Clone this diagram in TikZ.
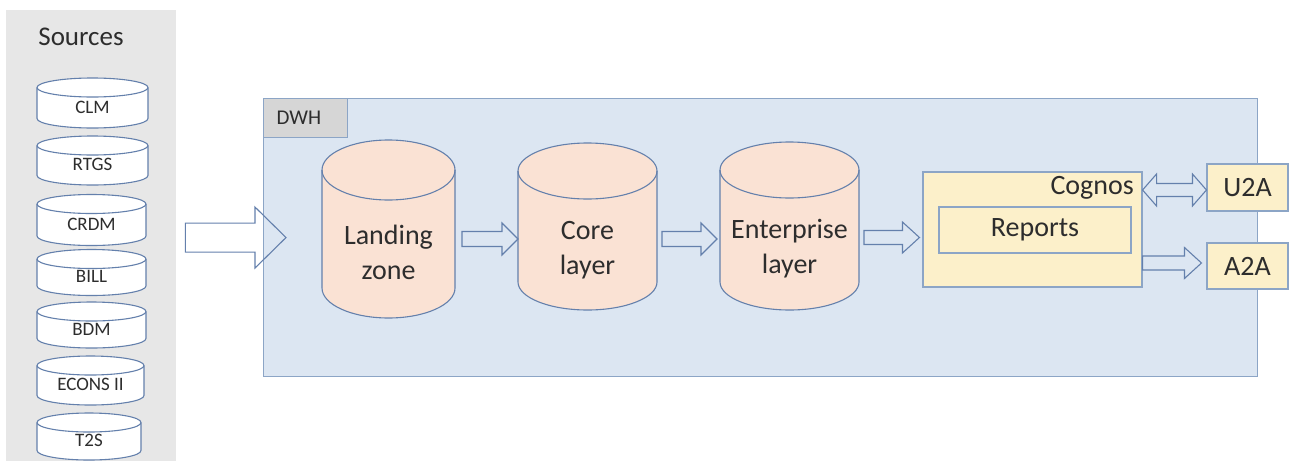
\documentclass[tikz,border=0pt]{standalone}
\usepackage{fontspec}
\setmainfont{Carlito}
\usetikzlibrary{calc}
\usetikzlibrary{positioning}

\definecolor{panelgray}{RGB}{231,231,231}
\definecolor{tabgray}{RGB}{214,214,214}
\definecolor{dwhblue}{RGB}{220,230,242}
\definecolor{dwhline}{RGB}{140,165,198}
\definecolor{dbline}{RGB}{100,128,172}
\definecolor{peach}{RGB}{250,226,212}
\definecolor{cream}{RGB}{252,240,202}
\definecolor{txt}{RGB}{45,45,45}

% cylinder: name, centre, width, height, ellipse half height, fill
\newcommand{\drum}[6]{%
  \node[minimum width=#3pt, minimum height=#4pt, inner sep=0pt, outer sep=0pt] (#1) at #2 {};
  \draw[dbstyle, fill=#6] ($(#1.north west)+(0,#5)$) -- ($(#1.south west)+(0,-#5)$)
    arc[start angle=180, end angle=0, x radius=#3/2, y radius=#5] -- ($(#1.north east)+(0,#5)$)
    arc[start angle=0, end angle=-180, x radius=#3/2, y radius=#5] -- cycle;
  \draw[dbstyle] ($(#1.north west)+(0,#5)$) arc[start angle=180, end angle=0, x radius=#3/2, y radius=#5];}
% hollow block arrow: from, tip, shaft half, head half, head length
\newcommand{\blockarrow}[5]{%
  \draw[flowarrow] ($#1+(0,#3)$) -- ($#2+(-#5,#3)$) -- ($#2+(-#5,#4)$) -- #2
    -- ($#2+(-#5,-#4)$) -- ($#2+(-#5,-#3)$) -- ($#1+(0,-#3)$) -- cycle;}
% same, with a head at both ends
\newcommand{\dblarrow}[5]{%
  \draw[flowarrow] #1 -- ($#1+(#5,#4)$) -- ($#1+(#5,#3)$) -- ($#2+(-#5,#3)$) -- ($#2+(-#5,#4)$) -- #2
    -- ($#2+(-#5,-#4)$) -- ($#2+(-#5,-#3)$) -- ($#1+(#5,-#3)$) -- ($#1+(#5,-#4)$) -- cycle;}

\tikzset{
  flowarrow/.style={draw=dbline, line width=1.1pt, line join=miter},
  dbstyle/.style={draw=dbline, line width=1.1pt},
  srctext/.style={text=txt, font=\fontsize{19}{22}\selectfont, inner sep=0pt},
  layertext/.style={text=txt, align=center, font=\fontsize{28}{35}\selectfont, inner sep=0pt},
  creambox/.style={draw=dwhline, fill=cream, line width=1.1pt, text=txt, font=\fontsize{28}{34}\selectfont, inner sep=0pt},
}

\begin{document}
\begin{tikzpicture}[x=1pt,y=1pt,yscale=-1,xscale=1]
  \path[use as bounding box] (0,0) rectangle (1289,461);

  % sources
  \node[fill=panelgray, anchor=north west, minimum width=170pt, minimum height=451pt, inner sep=0pt] (src) at (6,10) {};
  \node[text=txt, font=\fontsize{27}{30}\selectfont] (srctitle) at (81,37) {Sources};
  \foreach \name/\lbl/\w/\y/\h in {clm/CLM/111/103/50, rtgs/RTGS/111/160.5/49, crdm/CRDM/109/220/51,
      bill/BILL/109/272.5/46, bdm/BDM/109/325/46, econs/ECONS II/107/380.5/49, tts/T2S/104/436.5/47} {
    \drum{\name}{({37+\w/2},\y)}{\w}{\h}{9.5}{white}
    \node[srctext] (t\name) at ($(\name.center)+(0,4)$) {\lbl};
  }

  % DWH
  \node[draw=dwhline, fill=dwhblue, line width=1.1pt, anchor=north west, minimum width=994pt, minimum height=278pt, inner sep=0pt] (dwh) at (263,98) {};
  \node[draw=dwhline, fill=tabgray, line width=1.1pt, anchor=north west, inner xsep=13pt, text width=58pt,
    minimum height=39pt, align=left, text=txt, font=\fontsize{21}{24}\selectfont] (dwhtab) at (263,98) {DWH};

  \drum{landing}{(388.5,229)}{133}{178}{30}{peach}
  \drum{core}{(587.5,226.5)}{139}{167}{28}{peach}
  \drum{ent}{(789.5,226)}{139}{168}{28}{peach}
  \node[layertext] (tlanding) at ($(landing.center)+(0,23.5)$) {Landing\\zone};
  \node[layertext] (tcore) at ($(core.center)+(0,23.5)$) {Core\\layer};
  \node[layertext] (tent) at ($(ent.center)+(0,22.5)$) {Enterprise\\layer};

  \node[creambox, minimum width=219pt, minimum height=115pt] (cognos) at (1032.5,229.5) {};
  \node[text=txt, font=\fontsize{28}{34}\selectfont, anchor=east, inner sep=0pt] (tcognos) at (1134,188) {Cognos};
  \node[creambox, minimum width=192pt, minimum height=46pt] (reports) at (1035,230) {Reports};

  \node[creambox, minimum width=81pt, minimum height=47pt] (u2a) at (1247.5,187.5) {U2A};
  \node[creambox, minimum width=81pt, minimum height=46pt] (a2a) at (1247.5,266) {A2A};

  % flow
  \coordinate (flow) at (0,239);
  \blockarrow{($(src.east |- dwh.west)+(9,0)$)}{($(dwh.west)+(23,0)$)}{14.5}{30.5}{31}
  \blockarrow{($(landing.east |- flow)+(7,0)$)}{(core.west |- flow)}{7.5}{16}{16}
  \blockarrow{($(core.east |- flow)+(5,0)$)}{($(ent.west |- flow)+(-3,0)$)}{7.5}{16}{16}
  \blockarrow{($(ent.east |- flow)+(5,-1.5)$)}{($(cognos.west |- flow)+(-3,-1.5)$)}{7}{15.5}{17}
  \dblarrow{(cognos.east |- 0,190)}{(u2a.west |- 0,190)}{6.5}{16}{14}
  \blockarrow{(cognos.east |- 0,263)}{($(a2a.west |- 0,263)+(-5,0)$)}{7}{15.5}{17}
\end{tikzpicture}
\end{document}
